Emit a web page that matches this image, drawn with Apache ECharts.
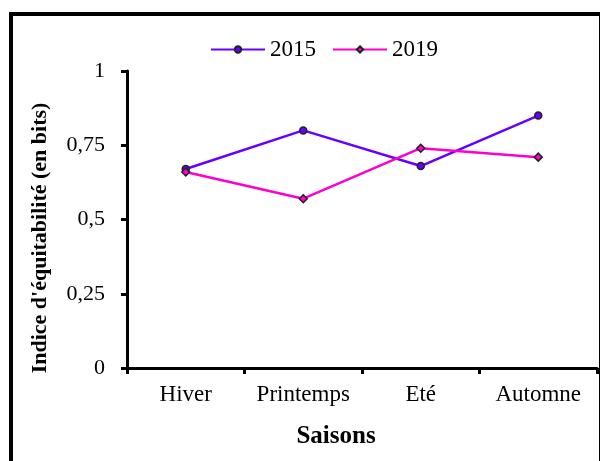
<!DOCTYPE html>
<html>
<head>
<meta charset="utf-8">
<script src="https://cdn.jsdelivr.net/npm/echarts@6/dist/echarts.min.js"></script>
<style>
  html, body { margin: 0; padding: 0; background: #fff; }
  #chart { width: 601px; height: 461px; }
</style>
</head>
<body>
<div id="chart"></div>
<script>
// saisons et indices
var saisons = ['Hiver', 'Printemps', 'Eté', 'Automne'];
var annees = ['2015', '2019'];
var val2015 = [0.67, 0.80, 0.68, 0.85];
var val2019 = [0.66, 0.57, 0.74, 0.71];
var couleurs = ['#6600ff', '#ff00cc'];

var police = '"Liberation Serif", "Times New Roman", serif';
var myChart = echarts.init(document.getElementById('chart'));

function fmt(v) {
    return String(v).replace('.', ',');
}

var option = {
    animation: false,
    textStyle: { fontFamily: police },
    grid: { left: 127, right: 4, top: 71, bottom: 93 },
    legend: {
        top: 33,
        left: 205,
        itemWidth: 54,
        itemHeight: 8,
        itemGap: 16,
        textStyle: { fontFamily: police, fontSize: 23, color: '#000' },
        data: annees
    },
    xAxis: {
        type: 'category',
        data: saisons,
        boundaryGap: true,
        axisLine: { lineStyle: { color: '#000', width: 3 } },
        axisTick: { show: true, length: 6, interval: 0, lineStyle: { color: '#000', width: 3 } },
        axisLabel: { fontFamily: police, fontSize: 23, color: '#000', margin: 15, interval: 0, hideOverlap: false },
        splitLine: { show: false }
    },
    yAxis: {
        type: 'value',
        min: 0,
        max: 1,
        interval: 0.25,
        axisLine: { show: true, lineStyle: { color: '#000', width: 3 } },
        axisTick: { show: true, length: 6, lineStyle: { color: '#000', width: 3 } },
        axisLabel: { fontFamily: police, fontSize: 22, color: '#000', margin: 22, formatter: fmt },
        splitLine: { show: false }
    },
    series: [
        {
            name: annees[0],
            type: 'line',
            data: val2015,
            symbol: 'circle',
            symbolSize: 7,
            lineStyle: { color: couleurs[0], width: 2.5 },
            itemStyle: { color: couleurs[0], borderColor: '#222', borderWidth: 1.5 }
        },
        {
            name: annees[1],
            type: 'line',
            data: val2019,
            symbol: 'diamond',
            symbolSize: 8,
            lineStyle: { color: couleurs[1], width: 2.5 },
            itemStyle: { color: couleurs[1], borderColor: '#222', borderWidth: 1.5 }
        }
    ],
    graphic: [
        { type: 'line', shape: { x1: 11, y1: 14, x2: 600, y2: 14 }, style: { stroke: '#000', lineWidth: 4 } },
        { type: 'line', shape: { x1: 11, y1: 12, x2: 11, y2: 461 }, style: { stroke: '#000', lineWidth: 4 } },
        { type: 'line', shape: { x1: 599.5, y1: 12, x2: 599.5, y2: 461 }, style: { stroke: '#000', lineWidth: 1 } },
        {
            type: 'text', x: 40, y: 238, rotation: Math.PI / 2,
            style: {
                text: "Indice d'équitabilité (en bits)", fill: '#000',
                font: 'bold 22px ' + police, align: 'center', verticalAlign: 'middle'
            }
        },
        {
            type: 'text', x: 336, y: 437,
            style: {
                text: 'Saisons', fill: '#000',
                font: 'bold 25px ' + police, align: 'center', verticalAlign: 'middle'
            }
        }
    ]
};
myChart.setOption(option);
</script>
</body>
</html>
